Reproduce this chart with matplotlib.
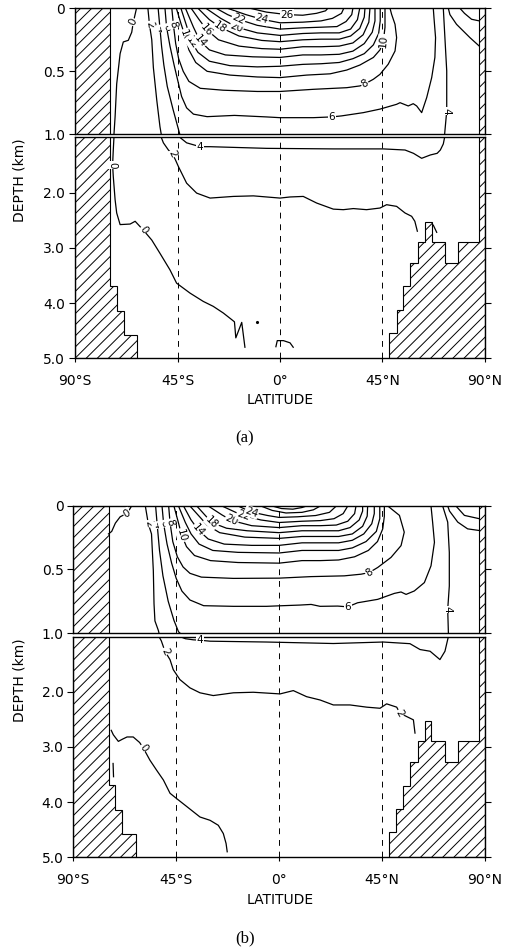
import matplotlib.pyplot as plt
from matplotlib.patches import Polygon

plt.rcParams['font.family'] = 'DejaVu Sans'
plt.rcParams['hatch.linewidth'] = 0.7

# axis ticks
lat_ticks = [-90, -45, 0, 45, 90]
lat_ticklabels = ['90°S', '45°S', '0°', '45°N', '90°N']
upper_ticks = [0, 0.5, 1.0]
upper_ticklabels = ['0', '0.5', '1.0']
lower_ticks = [2.0, 3.0, 4.0, 5.0]
lower_ticklabels = ['2.0', '3.0', '4.0', '5.0']
guide_lats = [-45, 0, 45]

# bottom topography outlines (lat, depth km)
land_south = [(-90, 0), (-74.6, 0), (-74.6, 3.69), (-71.7, 3.69), (-71.7, 4.14),
              (-68.5, 4.14), (-68.5, 4.58), (-62.7, 4.58), (-62.7, 5.0), (-90, 5.0)]
land_north = [(90, 0), (87.5, 0), (87.5, 2.89), (78.1, 2.89), (78.1, 3.27),
              (72.4, 3.27), (72.4, 2.89), (66.6, 2.89), (66.6, 2.53), (63.7, 2.53),
              (63.7, 2.89), (60.5, 2.89), (60.5, 3.27), (57.1, 3.27), (57.1, 3.70),
              (54.1, 3.70), (54.1, 4.12), (51.2, 4.12), (51.2, 4.55), (48.0, 4.55),
              (48.0, 5.0), (90, 5.0)]

# ---- run (a): isotherms as (lat, depth) ----
a_t0 = [(-63.0, 0.0), (-64.4, 0.11), (-65.1, 0.19), (-66.6, 0.254), (-68.8, 0.267),
        (-70.2, 0.36), (-71.7, 0.60), (-72.4, 0.86), (-72.9, 1.0), (-73.2, 1.23),
        (-73.5, 1.50), (-73.2, 1.71), (-72.4, 2.13), (-71.7, 2.37), (-70.2, 2.58),
        (-65.8, 2.57), (-63.6, 2.52), (-60.0, 2.68), (-56.3, 2.86), (-52.7, 3.10),
        (-48.3, 3.40), (-45.4, 3.64), (-39.5, 3.82), (-33.7, 3.97), (-29.3, 4.06),
        (-24.9, 4.18), (-21.2, 4.30), (-20.0, 4.34), (-19.4, 4.63), (-16.8, 4.35),
        (-15.4, 4.80)]
a_t0_hook = [(-1.8, 4.79), (-1.2, 4.68), (1.5, 4.68), (4.4, 4.72), (5.8, 4.80)]
a_t0_north = [(79.0, 0.0), (81.0, 0.04), (84.1, 0.087), (87.5, 0.10)]
a_t2 = [(-58.0, 0.0), (-57.3, 0.13), (-56.3, 0.25), (-55.6, 0.47), (-54.1, 0.73),
        (-52.7, 0.94), (-51.2, 1.10), (-49.0, 1.23), (-47.3, 1.30), (-46.0, 1.40),
        (-44.6, 1.53), (-41.0, 1.83), (-36.6, 2.01), (-30.7, 2.10), (-20.5, 2.07),
        (-11.7, 2.06), (0.0, 2.10), (4.4, 2.08), (10.2, 2.07), (16.1, 2.19),
        (23.4, 2.30), (27.8, 2.31), (32.2, 2.29), (38.0, 2.31), (43.9, 2.28),
        (46.8, 2.22), (51.2, 2.25), (54.9, 2.37), (57.8, 2.43), (59.2, 2.52),
        (60.3, 2.70)]
a_t2_tick = [(67.3, 2.59), (68.8, 2.72)]
a_t2_north = [(73.9, 0.0), (74.6, 0.05), (77.5, 0.127), (83.4, 0.233), (87.5, 0.30)]
a_t4 = [(-53.5, 0.0), (-52.7, 0.16), (-52.0, 0.30), (-51.0, 0.45), (-49.5, 0.62),
        (-47.0, 0.80), (-44.0, 1.0), (-41.0, 1.10), (-35.1, 1.17), (-30.7, 1.17),
        (-5.9, 1.20), (23.4, 1.21), (45.3, 1.21), (54.9, 1.23), (58.6, 1.29),
        (62.2, 1.38), (66.0, 1.32), (69.0, 1.29), (70.4, 1.23), (71.7, 1.12),
        (72.4, 0.974), (73.2, 0.815), (73.2, 0.497), (72.4, 0.233), (71.7, 0.0)]
a_t6 = [(-50.5, 0.0), (-49.8, 0.15), (-48.3, 0.30), (-46.5, 0.45), (-44.8, 0.58),
        (-43.2, 0.70), (-41.0, 0.79), (-38.0, 0.84), (-32.0, 0.86), (-20.0, 0.85),
        (-6.0, 0.862), (0.0, 0.868), (14.6, 0.868), (22.7, 0.862), (27.0, 0.854),
        (36.6, 0.828), (43.9, 0.80), (51.2, 0.762), (52.7, 0.749), (56.3, 0.775),
        (58.5, 0.757), (60.0, 0.775), (62.2, 0.828), (64.4, 0.709), (66.6, 0.55),
        (68.0, 0.39), (68.3, 0.233), (67.6, 0.074), (67.3, 0.0)]
a_t8 = [(-47.5, 0.0), (-46.8, 0.13), (-45.8, 0.28), (-44.5, 0.40), (-42.5, 0.50),
        (-40.0, 0.58), (-35.0, 0.635), (-25.0, 0.65), (-10.0, 0.66), (0.0, 0.66),
        (14.6, 0.643), (29.3, 0.63), (35.1, 0.616), (37.3, 0.60), (41.0, 0.563),
        (43.9, 0.524), (47.5, 0.444), (50.5, 0.339), (51.2, 0.233), (50.5, 0.127),
        (49.0, 0.048), (48.3, 0.0)]
a_t10 = [(-45.5, 0.0), (-43.5, 0.12), (-41.7, 0.22), (-40.0, 0.33), (-37.0, 0.43),
         (-32.0, 0.50), (-22.0, 0.53), (-10.0, 0.545), (0.0, 0.55), (11.7, 0.53),
         (22.0, 0.52), (29.3, 0.49), (35.1, 0.45), (41.0, 0.39), (43.9, 0.33),
         (45.4, 0.26), (46.1, 0.15), (46.1, 0.0)]
a_t12 = [(-43.5, 0.0), (-41.0, 0.14), (-38.8, 0.27), (-36.0, 0.35), (-31.0, 0.42),
         (-22.0, 0.455), (-10.0, 0.465), (0.0, 0.46), (10.0, 0.445), (18.0, 0.44),
         (26.0, 0.43), (32.0, 0.40), (37.0, 0.36), (41.0, 0.29), (43.3, 0.20),
         (44.0, 0.10), (44.0, 0.0)]
a_t14 = [(-41.5, 0.0), (-38.0, 0.15), (-35.1, 0.26), (-31.0, 0.33), (-24.0, 0.37),
         (-12.0, 0.385), (0.0, 0.39), (10.0, 0.37), (18.0, 0.37), (26.0, 0.365),
         (32.0, 0.34), (37.0, 0.28), (40.5, 0.19), (41.7, 0.10), (41.7, 0.0)]
a_t16 = [(-39.0, 0.0), (-35.5, 0.09), (-32.2, 0.17), (-27.0, 0.25), (-18.0, 0.30),
         (-8.0, 0.32), (0.0, 0.325), (10.0, 0.305), (18.0, 0.305), (26.0, 0.30),
         (32.0, 0.275), (36.5, 0.21), (39.0, 0.11), (39.5, 0.0)]
a_t18 = [(-36.0, 0.0), (-31.0, 0.09), (-26.3, 0.15), (-18.0, 0.22), (-8.0, 0.255),
         (0.0, 0.265), (10.0, 0.25), (18.0, 0.245), (26.0, 0.245), (31.0, 0.22),
         (35.0, 0.16), (37.0, 0.07), (37.3, 0.0)]
a_t20 = [(-32.5, 0.0), (-26.0, 0.08), (-19.0, 0.15), (-10.0, 0.195), (0.0, 0.215),
         (10.0, 0.20), (18.0, 0.195), (26.0, 0.195), (31.0, 0.165), (34.0, 0.09),
         (35.0, 0.0)]
a_t22 = [(-28.0, 0.0), (-23.0, 0.05), (-18.3, 0.087), (-10.0, 0.135), (0.0, 0.165),
         (10.0, 0.155), (18.0, 0.15), (25.0, 0.145), (29.0, 0.105), (31.5, 0.05),
         (32.0, 0.0)]
a_t24 = [(-23.0, 0.0), (-15.0, 0.05), (-8.0, 0.087), (0.0, 0.115), (10.0, 0.11),
         (18.0, 0.10), (23.0, 0.08), (27.0, 0.04), (28.0, 0.0)]
a_t26 = [(-13.0, 0.0), (-6.0, 0.03), (3.0, 0.05), (10.0, 0.055), (16.0, 0.04),
         (20.0, 0.02), (21.0, 0.0)]
a_dots = [(-10.3, 4.35)]
a_lines = [a_t0, a_t0_hook, a_t0_north, a_t2, a_t2_tick, a_t2_north, a_t4, a_t6,
           a_t8, a_t10, a_t12, a_t14, a_t16, a_t18, a_t20, a_t22, a_t24, a_t26]
# (text, lat, depth, rotation)
a_labels = [('0', -64.4, 0.11, 65), ('2', -57.3, 0.13, -80), ('4', -52.7, 0.16, -80),
            ('6', -49.8, 0.15, -75), ('8', -46.8, 0.13, -75), ('10', -41.7, 0.22, -70),
            ('12', -38.8, 0.27, -55), ('14', -35.1, 0.26, -50), ('16', -32.2, 0.17, -50),
            ('18', -26.3, 0.15, -35), ('20', -19.0, 0.15, -20), ('22', -18.3, 0.087, -25),
            ('24', -8.0, 0.087, -15), ('26', 3.0, 0.05, 0), ('10', 45.4, 0.26, 85),
            ('8', 37.3, 0.60, 30), ('6', 22.7, 0.862, 0), ('4', 73.2, 0.815, -90),
            ('4', -35.1, 1.17, 0), ('2', -47.3, 1.30, -65), ('0', -73.5, 1.50, -90),
            ('0', -60.0, 2.68, -55)]

# ---- run (b) ----
b_t0_top = [(-64.5, 0.0), (-65.5, 0.03), (-66.6, 0.058), (-69.5, 0.085),
            (-71.6, 0.135), (-73.2, 0.20), (-74.6, 0.22)]
b_t0 = [(-73.4, 2.70), (-72.5, 2.78), (-70.3, 2.90), (-68.5, 2.86), (-66.5, 2.82),
        (-63.8, 2.82), (-61.0, 2.92), (-59.4, 3.02), (-56.5, 3.24), (-53.6, 3.42),
        (-50.6, 3.60), (-47.7, 3.84), (-45.0, 3.93), (-40.4, 4.08), (-34.6, 4.27),
        (-30.2, 4.33), (-26.6, 4.42), (-24.4, 4.57), (-23.2, 4.75), (-22.7, 4.90)]
b_t0_tick = [(-72.6, 3.30), (-72.4, 3.54)]
b_t0_north = [(77.3, 0.0), (81.0, 0.074), (87.5, 0.10)]
b_t2 = [(-58.5, 0.0), (-57.2, 0.14), (-55.8, 0.22), (-55.0, 0.51), (-54.7, 0.77),
        (-54.3, 0.905), (-52.8, 0.98), (-51.5, 1.08), (-49.9, 1.27), (-47.7, 1.42),
        (-46.3, 1.60), (-43.4, 1.78), (-39.0, 1.93), (-34.6, 2.02), (-28.8, 2.07),
        (-20.0, 2.02), (-11.3, 2.01), (0.4, 2.04), (6.2, 1.98), (12.0, 2.09),
        (17.9, 2.15), (23.7, 2.24), (31.0, 2.24), (38.3, 2.28), (44.1, 2.30),
        (47.0, 2.22), (51.4, 2.28), (52.8, 2.39), (58.7, 2.51), (59.4, 2.75)]
b_t2_north = [(73.7, 0.0), (74.5, 0.04), (78.1, 0.127), (82.4, 0.18), (87.5, 0.193)]
b_t4 = [(-54.0, 0.0), (-53.3, 0.15), (-52.3, 0.35), (-50.8, 0.55), (-48.5, 0.75),
        (-46.0, 0.90), (-44.0, 0.99), (-41.0, 1.04), (-37.5, 1.06), (-34.6, 1.067),
        (-30.2, 1.085), (-5.5, 1.10), (23.7, 1.127), (45.5, 1.10), (57.2, 1.13),
        (61.6, 1.236), (66.0, 1.267), (70.3, 1.418), (72.5, 1.267), (74.0, 1.0),
        (73.7, 0.815), (74.4, 0.63), (74.4, 0.365), (73.7, 0.127), (71.5, 0.0)]
b_t6 = [(-51.2, 0.0), (-50.5, 0.14), (-49.0, 0.30), (-47.0, 0.45), (-45.0, 0.57),
        (-42.5, 0.67), (-39.0, 0.74), (-33.0, 0.785), (-20.0, 0.79), (-5.5, 0.79),
        (0.0, 0.786), (9.1, 0.78), (14.0, 0.775), (17.9, 0.79), (25.6, 0.788),
        (30.0, 0.794), (34.3, 0.762), (43.1, 0.735), (50.4, 0.688), (53.3, 0.677),
        (55.5, 0.696), (59.1, 0.669), (63.5, 0.603), (66.4, 0.471), (67.9, 0.286),
        (67.1, 0.127), (66.4, 0.0)]
b_t8 = [(-48.3, 0.0), (-47.7, 0.13), (-46.5, 0.28), (-44.5, 0.40), (-42.0, 0.48),
        (-39.0, 0.53), (-34.0, 0.56), (-20.0, 0.57), (0.0, 0.568), (14.0, 0.556),
        (28.5, 0.55), (35.8, 0.537), (39.4, 0.524), (43.1, 0.484), (48.9, 0.405),
        (53.3, 0.312), (54.7, 0.206), (52.6, 0.074), (47.5, 0.0)]
b_t10 = [(-46.0, 0.0), (-44.2, 0.12), (-42.6, 0.23), (-40.5, 0.32), (-37.0, 0.39),
         (-30.0, 0.43), (-18.0, 0.445), (0.0, 0.45), (10.0, 0.43), (18.0, 0.43),
         (26.0, 0.425), (33.0, 0.40), (39.0, 0.35), (43.0, 0.28), (45.3, 0.18),
         (46.0, 0.08), (46.0, 0.0)]
b_t12 = [(-44.0, 0.0), (-41.0, 0.13), (-38.5, 0.22), (-35.0, 0.30), (-29.0, 0.35),
         (-18.0, 0.365), (0.0, 0.37), (10.0, 0.35), (18.0, 0.35), (26.0, 0.35),
         (32.0, 0.33), (38.0, 0.28), (42.5, 0.20), (44.0, 0.10), (44.0, 0.0)]
b_t14 = [(-41.8, 0.0), (-38.5, 0.11), (-35.3, 0.19), (-31.0, 0.26), (-24.0, 0.30),
         (-12.0, 0.31), (0.0, 0.31), (10.0, 0.29), (18.0, 0.29), (26.0, 0.29),
         (32.0, 0.27), (37.0, 0.22), (40.5, 0.14), (41.6, 0.06), (41.6, 0.0)]
b_t16 = [(-39.0, 0.0), (-35.0, 0.08), (-31.5, 0.15), (-26.0, 0.21), (-15.0, 0.245),
         (0.0, 0.255), (10.0, 0.24), (18.0, 0.24), (26.0, 0.24), (32.0, 0.22),
         (36.5, 0.16), (38.5, 0.08), (38.7, 0.0)]
b_t18 = [(-36.0, 0.0), (-32.5, 0.07), (-29.5, 0.13), (-23.0, 0.175), (-14.0, 0.195),
         (0.0, 0.21), (10.0, 0.195), (18.0, 0.195), (26.0, 0.195), (31.0, 0.17),
         (35.0, 0.11), (36.5, 0.04), (36.5, 0.0)]
b_t20 = [(-31.0, 0.0), (-25.0, 0.07), (-20.8, 0.114), (-12.0, 0.155), (0.0, 0.17),
         (10.0, 0.155), (18.0, 0.155), (25.0, 0.15), (30.0, 0.12), (33.0, 0.06),
         (33.6, 0.0)]
b_t22 = [(-25.0, 0.0), (-19.0, 0.05), (-15.7, 0.074), (-8.0, 0.11), (0.0, 0.13),
         (10.0, 0.12), (18.0, 0.115), (24.0, 0.10), (28.0, 0.06), (30.0, 0.0)]
b_t24 = [(-18.0, 0.0), (-12.0, 0.048), (-5.0, 0.075), (0.0, 0.09), (8.0, 0.085),
         (16.0, 0.075), (22.0, 0.05), (25.0, 0.0)]
b_t26 = [(-8.0, 0.0), (-3.0, 0.035), (3.0, 0.055), (10.0, 0.05), (15.0, 0.03),
         (18.0, 0.0)]
b_t28 = [(-3.0, 0.0), (1.0, 0.02), (6.0, 0.025), (10.0, 0.012), (12.0, 0.0)]
b_dots = []
b_lines = [b_t0_top, b_t0, b_t0_tick, b_t0_north, b_t2, b_t2_north, b_t4, b_t6,
           b_t8, b_t10, b_t12, b_t14, b_t16, b_t18, b_t20, b_t22, b_t24, b_t26, b_t28]
b_labels = [('0', -66.6, 0.058, 30), ('2', -57.2, 0.14, -80), ('4', -53.3, 0.15, -80),
            ('6', -50.5, 0.14, -75), ('8', -47.7, 0.13, -75), ('10', -42.6, 0.23, -75),
            ('14', -35.3, 0.19, -50), ('18', -29.5, 0.13, -45), ('20', -20.8, 0.114, -25),
            ('22', -15.7, 0.074, -20), ('24', -12.0, 0.048, -20), ('8', 39.4, 0.524, 35),
            ('6', 30.0, 0.794, 0), ('4', 73.7, 0.815, -90), ('4', -34.6, 1.067, 0),
            ('2', -49.9, 1.27, -65), ('2', 52.8, 2.39, -60), ('0', -59.4, 3.02, -55)]


def draw_section(ax, top, bottom, lines, labels, dots):
    ax.set_xlim(-90, 90)
    ax.set_ylim(bottom, top)
    for outline in (land_south, land_north):
        ax.add_patch(Polygon(outline, closed=True, facecolor='white',
                             edgecolor='black', hatch='///', lw=0.8, zorder=1))
    for x in guide_lats:
        ax.axvline(x, color='black', lw=0.7, ls=(0, (6, 6)), zorder=1.5)
    for pts in lines:
        lat, dep = zip(*pts)
        ax.plot(lat, dep, color='black', lw=0.9, zorder=2)
    for lat, dep in dots:
        ax.plot(lat, dep, 'k.', ms=2.5, zorder=2)
    for text, lat, dep, rot in labels:
        if top <= dep <= bottom:
            ax.text(lat, dep, text, rotation=rot, ha='center', va='center',
                    fontsize=7.5, zorder=3, rotation_mode='anchor',
                    bbox=dict(boxstyle='square,pad=0.05', fc='white', ec='none'))
    for s in ax.spines.values():
        s.set_linewidth(1.0)
    ax.tick_params(axis='y', left=True, right=True, direction='out', length=4,
                   width=0.8, pad=3, labelsize=10)


def draw_panel(x0, width, up_top, up_bot, lo_top, lo_bot, lines, labels, dots):
    ax_u = fig.add_axes([x0, up_bot, width, up_top - up_bot])
    draw_section(ax_u, 0.0, 1.0, lines, labels, dots)
    ax_u.set_yticks(upper_ticks, upper_ticklabels)
    ax_u.set_xticks([])

    ax_l = fig.add_axes([x0, lo_bot, width, lo_top - lo_bot])
    draw_section(ax_l, 1.0, 5.0, lines, labels, dots)
    ax_l.set_yticks(lower_ticks, lower_ticklabels)
    ax_l.set_xticks(lat_ticks, lat_ticklabels)
    ax_l.tick_params(axis='x', direction='out', length=3, width=0.8, pad=8,
                     labelsize=10)


fig = plt.figure(figsize=(5.11, 9.49), dpi=100)

draw_panel(0.1468, 0.8023, 0.99125, 0.85848, 0.85532, 0.62244,
           a_lines, a_labels, a_dots)
draw_panel(0.1434, 0.8057, 0.46681, 0.33298, 0.32929, 0.09663,
           b_lines, b_labels, b_dots)

for ylab, xlab, cap, tag in ((0.8103, 0.5785, 0.5385, '(a)'),
                             (0.2835, 0.0516, 0.0116, '(b)')):
    fig.text(0.039, ylab, 'DEPTH (km)', rotation=90, ha='center', va='center',
             fontsize=10)
    fig.text(0.548, xlab, 'LATITUDE', ha='center', va='center', fontsize=10)
    fig.text(0.4795, cap, tag, ha='center', va='center', fontsize=12,
             family='Liberation Serif')

fig.savefig('out.png', dpi=100)
